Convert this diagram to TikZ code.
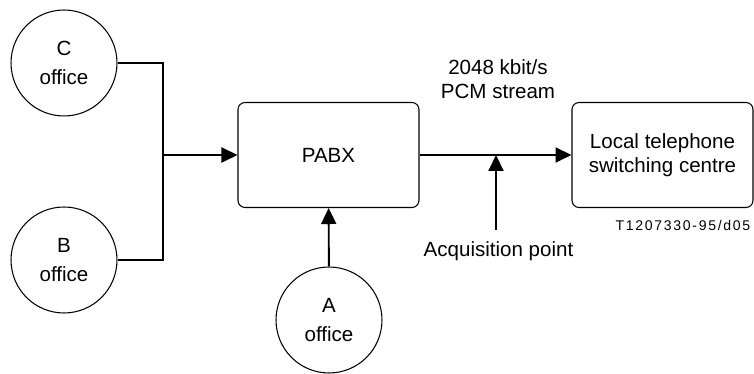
\documentclass[tikz,border=0pt]{standalone}
\usepackage{fontspec}
\setmainfont{Liberation Sans}
\usetikzlibrary{arrows.meta}

\begin{document}
\begin{tikzpicture}[
  x=0.02cm, y=-0.02cm,
  font=\fontsize{11.7}{13.6}\selectfont,
  office/.style={draw, circle, line width=0.6pt, minimum size=2.12cm, inner sep=0pt, align=center, font=\fontsize{11.7}{16.5}\selectfont},
  unit/.style={draw, line width=0.6pt, rounded corners=4pt, minimum width=3.62cm, minimum height=2.1cm, align=center},
  wire/.style={line width=0.6pt},
  arrow/.style={-{Triangle[length=0.32cm, width=0.3cm]}, line width=1.1pt},
  lab/.style={align=center}
]
\useasboundingbox (0,0) rectangle (754,374);

% offices
\node[office] (C) at (64,63) {C\\office};
\node[office] (B) at (64,260) {B\\office};
\node[office] (A) at (329,320) {A\\office};

% exchanges
\node[unit] (pabx) at (328.5,155) {PABX};
\node[unit] (local) at (662.5,155) {Local telephone\\switching centre};

% C and B joined, then into the PABX
\coordinate (join) at (163,155);
\draw[wire] (C) -| (join) |- (B);
\draw[arrow] (join) -- (pabx);
\draw[arrow] (A) -- (pabx);

% 2048 kbit/s stream and where it is tapped
\draw[arrow] (pabx) -- (local);
\coordinate (tap) at (496,155);
\coordinate (probe) at (496,230);
\draw[arrow] (probe) -- (tap);
\node[lab] (stream) at (498,79) {2048 kbit/s\\PCM stream};
\node[lab] (acq) at (498.5,251) {Acquisition point};

\node[font=\fontsize{8}{9}\selectfont\addfontfeature{LetterSpace=12}] (ref) at (683,225) {T1207330-95/d05};
\end{tikzpicture}
\end{document}
